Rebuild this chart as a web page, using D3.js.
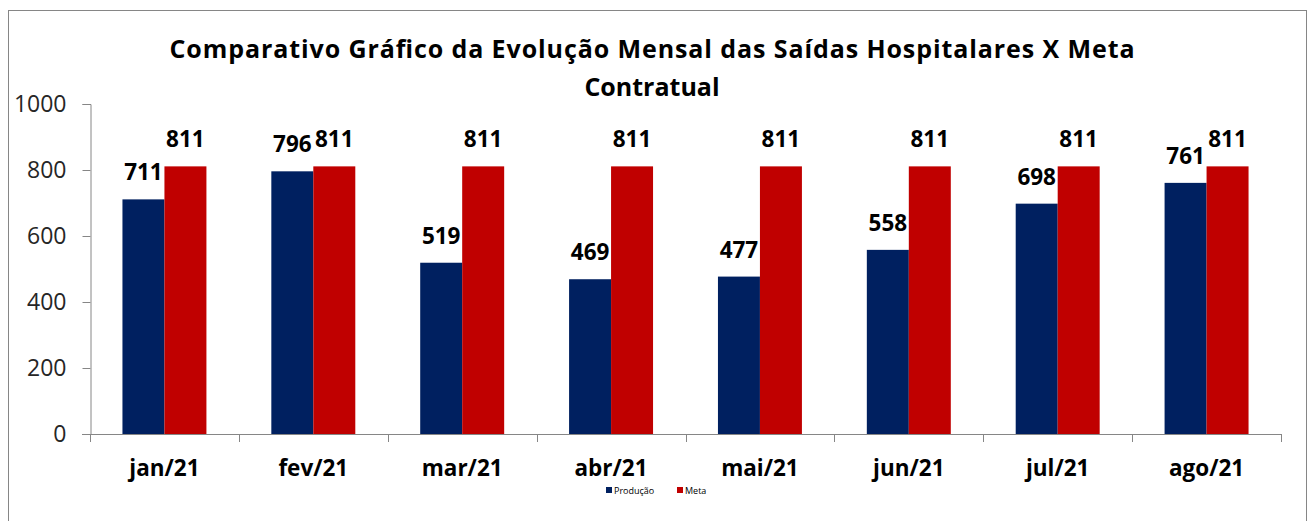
<!DOCTYPE html>
<html lang="pt">
	<head>
		<meta charset="utf-8">
		<title>Saídas Hospitalares X Meta</title>
		<script type="text/javascript" src="https://cdn.jsdelivr.net/npm/d3@7"></script>
		<style type="text/css">
			body { margin: 0; background: #fff; }
			svg { display: block; font-family: "Open Sans", Lato, sans-serif; }
		</style>
	</head>
	<body>
		<div id="chart"></div>
		<script type="text/javascript">

			//data
			var months = ["jan/21", "fev/21", "mar/21", "abr/21", "mai/21", "jun/21", "jul/21", "ago/21"];
			var producao = [711, 796, 519, 469, 477, 558, 698, 761];
			var meta = [811, 811, 811, 811, 811, 811, 811, 811];
			var seriesNames = ["Produção", "Meta"];
			var seriesColors = ["#002060", "#C00000"];
			var yTicks = [0, 200, 400, 600, 800, 1000];
			var titleLines = ["Comparativo Gráfico da Evolução Mensal das Saídas Hospitalares X Meta", "Contratual"];

			//Width and height
			var w = 1309;
			var h = 521;

			var svg = d3.select("#chart")
						.append("svg")
						.attr("width", w)
						.attr("height", h);

			//outer border
			svg.append("rect")
			   .attr("x", 8.5)
			   .attr("y", 10.5)
			   .attr("width", 1298)
			   .attr("height", 530)
			   .attr("fill", "none")
			   .attr("stroke", "#868686")
			   .attr("stroke-width", 1);

			//title
			var title = svg.selectAll(".title")
			   .data(titleLines)
			   .enter()
			   .append("text")
			   .attr("class", "title")
			   .attr("x", 652)
			   .attr("y", function(d, i) { return 58 + i * 38; })
			   .attr("text-anchor", "middle")
			   .attr("font-size", "25px")
			   .attr("font-weight", "bold")
			   .attr("fill", "#000")
			   .text(function(d) { return d; });

			// first line is a bit wider in the original
			title.filter(function(d, i) { return i == 0; })
				 .attr("textLength", 965)
				 .attr("lengthAdjust", "spacing");

			//scales
			var x = d3.scaleBand()
					  .domain(months)
					  .range([90, 1281])
					  .paddingInner(0.436)
					  .paddingOuter(0.218);

			var x1 = d3.scaleBand()
					   .domain(seriesNames)
					   .range([0, x.bandwidth()]);

			var y = d3.scaleLinear()
					  .domain([0, 1000])
					  .range([434, 104]);

			//y axis
			var yAxis = d3.axisLeft(y)
						  .tickValues(yTicks)
						  .tickSize(8)
						  .tickPadding(16)
						  .tickFormat(d3.format("d"));

			var gy = svg.append("g")
						.attr("transform", "translate(90.5,0)")
						.call(yAxis);
			gy.selectAll("path, line").attr("stroke", "#868686");
			gy.selectAll("text")
			  .attr("font-size", "23px")
			  .attr("fill", "#262626")
			  .attr("font-family", "'Open Sans', sans-serif");

			//x axis - ticks on the category boundaries
			var step = (1281 - 90) / months.length;
			var bounds = d3.range(months.length + 1).map(function(i) { return 90 + i * step; });

			svg.append("line")
			   .attr("x1", 82)
			   .attr("x2", 1281)
			   .attr("y1", 434.5)
			   .attr("y2", 434.5)
			   .attr("stroke", "#868686");

			svg.selectAll(".xtick")
			   .data(bounds)
			   .enter()
			   .append("line")
			   .attr("class", "xtick")
			   .attr("x1", function(d) { return Math.round(d) + 0.5; })
			   .attr("x2", function(d) { return Math.round(d) + 0.5; })
			   .attr("y1", 434)
			   .attr("y2", 442)
			   .attr("stroke", "#868686");

			svg.selectAll(".xlabel")
			   .data(months)
			   .enter()
			   .append("text")
			   .attr("class", "xlabel")
			   .attr("x", function(d) { return x(d) + x.bandwidth() / 2; })
			   .attr("y", 476)
			   .attr("text-anchor", "middle")
			   .attr("font-size", "22.5px")
			   .attr("font-weight", "bold")
			   .attr("fill", "#000")
			   .text(function(d) { return d; });

			//bars
			var rows = [];
			months.forEach(function(m, i) {
				rows.push({ month: m, serie: "Produção", value: producao[i] });
				rows.push({ month: m, serie: "Meta", value: meta[i] });
			});

			svg.selectAll(".bar")
			   .data(rows)
			   .enter()
			   .append("rect")
			   .attr("class", "bar")
			   .attr("x", function(d) { return x(d.month) + x1(d.serie); })
			   .attr("y", function(d) { return y(d.value); })
			   .attr("width", x1.bandwidth())
			   .attr("height", function(d) { return y(0) - y(d.value); })
			   .attr("fill", function(d) { return seriesColors[seriesNames.indexOf(d.serie)]; });

			//value labels
			svg.selectAll(".vlabel")
			   .data(rows)
			   .enter()
			   .append("text")
			   .attr("class", "vlabel")
			   .attr("x", function(d) { return x(d.month) + x1(d.serie) + x1.bandwidth() / 2; })
			   .attr("y", function(d) { return y(d.value) - 19; })
			   .attr("text-anchor", "middle")
			   .attr("font-size", "22.5px")
			   .attr("font-weight", "bold")
			   .attr("fill", "#000")
			   .text(function(d) { return d.value; });

			//legend
			var legX = [606, 677];
			var leg = svg.selectAll(".leg")
						 .data(seriesNames)
						 .enter()
						 .append("g")
						 .attr("class", "leg")
						 .attr("transform", function(d, i) { return "translate(" + legX[i] + ",487)"; });

			leg.append("rect")
			   .attr("width", 6)
			   .attr("height", 6)
			   .attr("fill", function(d, i) { return seriesColors[i]; });

			leg.append("text")
			   .attr("x", 8)
			   .attr("y", 6.5)
			   .attr("font-size", "9px")
			   .attr("fill", "#000")
			   .text(function(d) { return d; });

		</script>
	</body>
</html>
